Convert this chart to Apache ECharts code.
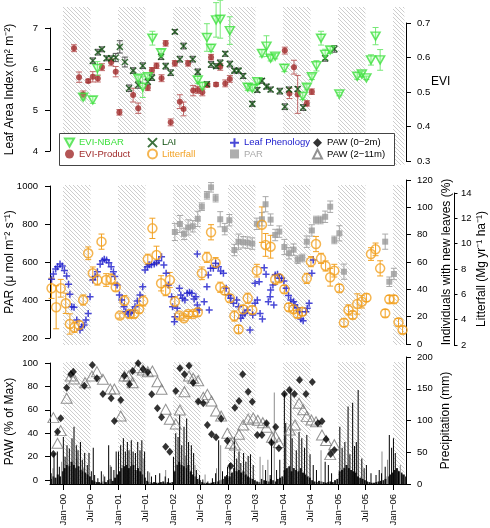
<!DOCTYPE html>
<html><head><meta charset="utf-8">
<script src="https://cdn.jsdelivr.net/npm/echarts@6/dist/echarts.min.js"></script>
<style>html,body{margin:0;padding:0;background:#fff}#c{width:490px;height:528px}</style>
</head><body><div id="c"></div>
<script>
// ---- time axis: months since Jan 2000 ----
const X_MIN = -2.84, X_MAX = 74.84;
const xTickMonths = [0,6,12,18,24,30,36,42,48,54,60,66,72];
const xTickLabels = ['Jan−00','Jul−00','Jan−01','Jul−01','Jan−02','Jul−02','Jan−03','Jul−03','Jan−04','Jul−04','Jan−05','Jul−05','Jan−06'];
const wetSeasons = [[0,6],[12,18],[24,30],[36,42],[48,54],[60,66],[72,74.5]];

// ---- top panel: [month, value, error] ----
const eviNbar = [[4.4,0.485,0.008],[6.5,0.477,0.01],[7.5,0.568,0.02],[16.4,0.540,0.008],[17.4,0.514,0.03],[18.5,0.544,0.008],[19.5,0.656,0.02],[21.4,0.614,0.01],[29.4,0.535,0.01],[30.4,0.517,0.01],[31.4,0.658,0.04],[32.3,0.627,0.01],[33.4,0.709,0.05],[34.3,0.711,0.055],[36.4,0.678,0.04],[40.3,0.514,0.01],[41.3,0.511,0.008],[42.4,0.530,0.008],[43.4,0.612,0.01],[44.4,0.633,0.03],[45.3,0.598,0.008],[46.3,0.604,0.008],[48.3,0.569,0.01],[52.3,0.488,0.01],[53.2,0.514,0.008],[54.3,0.544,0.008],[55.3,0.576,0.015],[56.3,0.656,0.02],[57.2,0.609,0.015],[58.3,0.622,0.01],[60.3,0.494,0.005],[64.2,0.546,0.01],[65.2,0.552,0.008],[66.2,0.541,0.005],[67.2,0.593,0.015],[68.2,0.662,0.025],[69.2,0.593,0.03]];
const eviProduct = [[2.4,0.627,0.01],[3.5,0.543,0.015],[4.4,0.493,0.01],[5.5,0.532,0.005],[6.5,0.544,0.015],[7.6,0.539,0.01],[8.5,0.572,0.01],[10.5,0.586,0.01],[11.5,0.559,0.015],[12.3,0.441,0.008],[15.3,0.491,0.02],[16.4,0.453,0.015],[18.5,0.512,0.008],[19.4,0.563,0.008],[20.4,0.576,0.008],[21.5,0.540,0.01],[22.4,0.641,0.008],[23.5,0.412,0.01],[24.4,0.583,0.008],[25.5,0.472,0.02],[26.3,0.451,0.02],[27.3,0.583,0.008],[28.4,0.504,0.015],[29.4,0.506,0.01],[30.4,0.499,0.01],[31.5,0.520,0.005],[32.3,0.601,0.008],[33.4,0.522,0.005],[34.3,0.573,0.01],[35.4,0.525,0.01],[36.4,0.538,0.01],[48.4,0.620,0.01],[49.4,0.496,0.015],[50.4,0.572,0.02],[51.2,0.493,0.055],[53.2,0.467,0.008],[54.3,0.501,0.008]];
const lai = [[6.5,6.20,0.07],[7.6,6.41,0.07],[8.5,6.48,0.06],[9.5,6.26,0.06],[10.5,6.26,0.06],[11.5,6.28,0.1],[12.4,6.54,0.15],[13.5,6.17,0.12],[14.4,5.53,0.08],[15.3,5.96,0.07],[16.4,5.61,0.08],[17.4,6.08,0.07],[18.5,5.69,0.07],[19.4,5.79,0.07],[21.4,6.30,0.07],[22.4,6.07,0.07],[23.5,5.91,0.07],[24.4,6.91,0.05],[25.5,6.24,0.07],[26.3,6.56,0.07],[28.3,6.24,0.07],[29.4,5.93,0.07],[31.4,5.63,0.06],[32.3,6.11,0.07],[33.4,6.07,0.06],[34.3,6.15,0.07],[35.4,6.37,0.06],[36.4,6.12,0.07],[37.4,5.96,0.06],[38.3,5.96,0.06],[39.3,5.83,0.06],[41.3,5.15,0.06],[42.4,5.49,0.06],[43.4,5.71,0.06],[44.4,5.57,0.06],[45.3,5.50,0.06],[47.3,5.46,0.07],[48.4,5.08,0.07],[49.3,5.50,0.06],[51.2,5.51,0.06],[52.4,5.06,0.07],[57.2,6.26,0.07],[59.2,6.49,0.08]];

// ---- middle panel ----
const leafPhenology = [[-2.5,47.3],[-2.1,51.2],[-1.6,54.9],[-1.2,56.6],[-0.65,58.5],[-0.15,57.1],[0.3,53.7],[0.8,49.8],[1.2,43.7],[1.5,36.4],[1.9,27.3],[2.4,26.8],[3.0,17.6],[3.7,10.2],[4.1,12.7],[4.6,13.9],[5.0,17.6],[5.5,22.4],[5.9,34.6],[6.5,46.8],[7.0,49.3],[7.5,52.9],[8.1,58.3],[8.6,61.0],[9.0,62.0],[9.5,61.5],[10.0,59.5],[10.5,56.6],[11.0,52.9],[11.3,49.3],[11.8,43.2],[12.3,35.9],[12.8,32.2],[13.3,27.3],[13.7,23.6],[14.2,22.0],[14.8,22.9],[15.2,24.4],[15.7,27.3],[16.2,31.5],[16.8,35.9],[17.4,41.9],[17.9,54.1],[18.4,56.6],[18.8,58.0],[19.3,58.0],[19.9,58.5],[20.4,59.5],[20.9,61.0],[21.5,63.9],[22.0,57.8],[22.5,51.7],[23.0,43.2],[23.7,34.6],[23.9,27.3],[24.3,16.3],[24.4,20.0],[24.9,26.1],[25.4,40.8],[25.7,35.9],[26.1,33.4],[26.6,32.2],[27.1,37.1],[27.6,37.8],[28.1,37.1],[28.6,32.9],[29.0,34.6],[29.3,65.9],[29.3,28.5],[29.7,24.9],[30.8,31.0],[31.4,41.9],[31.7,50.5],[31.9,24.9],[32.2,55.4],[32.8,55.4],[33.3,59.0],[33.9,56.6],[34.4,53.4],[35.0,51.7],[35.6,40.8],[36.1,35.9],[36.6,33.4],[37.2,29.8],[37.9,32.2],[38.3,27.3],[38.8,18.8],[39.2,21.2],[39.7,22.4],[40.2,24.9],[40.8,10.2],[41.4,21.2],[41.9,29.8],[41.9,44.4],[42.4,32.2],[42.8,45.6],[43.0,22.4],[43.5,18.3],[43.9,55.8],[44.3,51.0],[44.8,31.0],[45.2,34.6],[45.3,39.5],[45.8,43.2],[46.0,28.5],[46.3,50.5],[46.8,51.0],[47.2,48.1],[47.7,48.1],[48.2,46.1],[48.7,40.8],[49.2,35.4],[49.7,32.2],[50.3,31.0],[50.6,28.5],[51.1,26.6],[51.6,23.6],[51.9,18.3],[52.4,17.1],[53.0,23.6],[53.3,26.1],[53.7,29.8],[54.3,51.7],[54.6,61.5]];
const litterfall = [[-2.5,6.48,0.8],[-1.5,4.98,1.7],[-0.5,6.48,0.7],[0.6,5.29,0.8],[1.5,3.66,0.8],[2.5,3.40,0.4],[3.5,3.58,0.3],[4.4,5.55,0.4],[5.5,9.24,0.5],[6.5,7.66,0.5],[7.5,7.13,0.4],[8.4,10.16,0.6],[9.4,7.13,0.5],[10.5,7.21,0.4],[11.5,6.56,0.3],[12.4,4.32,0.2],[13.4,5.50,0.4],[14.5,4.45,0.3],[15.5,4.45,0.3],[16.6,4.82,0.3],[17.5,5.48,0.4],[18.5,8.77,0.4],[19.5,11.21,0.8],[20.4,9.10,0.7],[21.4,6.87,0.6],[22.4,6.29,0.4],[23.3,7.13,0.6],[24.4,5.42,0.4],[25.4,4.32,0.2],[26.4,4.11,0.2],[27.3,4.45,0.2],[28.4,4.45,0.2],[29.4,4.58,0.3],[30.3,7.66,0.5],[31.4,8.92,0.4],[32.3,10.90,0.6],[33.3,8.50,0.4],[34.3,6.56,0.4],[35.3,6.29,0.3],[36.4,5.69,0.3],[37.4,4.29,0.4],[38.3,3.24,0.3],[39.3,4.82,0.3],[40.3,5.69,0.4],[41.3,4.77,0.3],[42.3,7.87,0.5],[43.4,11.5,1.4],[44.2,9.90,0.9],[45.3,9.76,0.9],[46.3,7.18,0.4],[47.2,7.26,0.3],[48.3,6.40,0.3],[49.3,4.98,0.3],[50.3,4.82,0.3],[51.2,4.45,0.3],[52.2,4.63,0.3],[53.2,7.26,0.4],[54.1,8.58,0.4],[55.2,9.97,0.6],[56.3,8.84,0.4],[57.3,8.24,0.4],[58.3,7.35,0.7],[59.2,7.87,0.5],[60.3,6.48,0.3],[61.3,3.76,0.3],[62.3,4.77,0.4],[63.2,4.37,0.3],[64.2,5.24,0.8],[65.2,5.42,0.5],[66.2,5.74,0.3],[67.2,9.18,0.5],[68.2,9.55,0.5],[69.2,8.05,0.6],[70.3,4.50,0.3],[71.2,5.61,0.3],[72.2,5.61,0.3],[73.2,3.79,0.3],[74.1,3.19,0.3]];
const par = [[24.4,758,45],[25.5,800,45],[26.4,748,30],[27.3,782,40],[28.3,788,30],[29.4,827,40],[30.3,891,20],[31.4,951,20],[32.3,993,25],[33.3,936,20],[34.3,825,40],[35.3,773,30],[36.3,820,30],[37.4,663,30],[38.3,707,40],[39.3,704,30],[40.3,702,30],[41.3,697,30],[42.3,801,30],[43.4,825,35],[44.2,904,40],[45.3,823,30],[46.3,742,30],[47.2,760,30],[48.3,679,40],[49.3,646,30],[50.3,665,30],[51.2,612,20],[52.2,621,20],[53.2,707,30],[54.3,766,30],[55.2,821,20],[56.2,821,20],[57.2,838,30],[58.3,891,30],[59.2,716,20],[60.3,751,40],[61.3,549,40],[70.3,707,40],[71.2,496,25],[72.2,537,30]];

// ---- bottom panel ----
const pawShallow = [[-2.1,22.2],[-1.2,41.3],[-0.5,52.7],[0.8,78.9],[1.7,90.3],[2.25,92.6],[4.65,80.6],[6.4,98.3],[7.4,86.9],[8.7,73.5],[10.5,69.8],[11.2,50.4],[12.6,68.4],[13.4,89.1],[14.5,81.8],[15.2,93.2],[16.4,99.7],[17.5,94.6],[18.5,92.0],[19.35,73.2],[20.6,61.3],[21.5,53.6],[22.4,28.5],[23.3,24.2],[24.6,76.1],[25.5,95.5],[26.5,90.3],[27.5,97.7],[28.4,83.2],[29.5,67.0],[30.6,65.6],[31.5,47.0],[32.4,39.1],[33.4,36.5],[34.5,52.4],[35.85,33.6],[36.6,12.0],[37.5,61.8],[38.4,67.5],[39.2,90.3],[40.4,75.5],[41.3,66.9],[42.4,38.5],[43.4,38.5],[44.4,48.5],[45.5,31.9],[46.4,45.3],[47.1,27.1],[48.3,73.5],[49.4,76.9],[50.5,73.5],[51.6,85.5],[53.0,73.5],[54.4,83.8],[55.6,48.5],[56.5,50.3],[57.4,34.8],[58.4,22.2],[59.2,25.6]];
const pawDeep = [[-2.1,53.3],[-1.2,31.4],[-0.5,42.2],[0.8,69.8],[1.7,88.9],[2.4,86.3],[4.8,83.2],[6.3,88.9],[7.4,92.6],[8.7,86.1],[10.3,77.8],[11.2,77.8],[12.6,54.7],[13.4,88.9],[14.3,88.9],[15.2,83.2],[16.2,96.0],[17.4,94.0],[18.5,92.6],[19.5,93.2],[20.6,84.0],[21.5,77.5],[22.4,60.4],[23.3,51.9],[24.6,47.9],[25.5,59.8],[26.5,75.5],[27.5,88.9],[28.4,86.9],[29.5,84.9],[30.6,70.7],[31.5,73.2],[32.4,67.5],[33.4,59.0],[34.5,54.7],[35.85,39.9],[36.6,31.4],[37.5,29.9],[38.4,39.1],[39.3,47.0],[40.4,52.0],[41.5,53.0],[42.5,51.0],[43.6,49.0],[44.4,45.0],[45.6,36.5],[46.3,37.5],[47.1,32.0],[49.5,42.7],[50.6,47.0],[51.5,65.6],[52.4,60.0],[53.2,54.4],[54.2,51.3],[55.2,49.8],[56.5,38.5],[57.4,33.7],[58.3,21.7],[59.2,30.2]];
const precipBlack = [[-2.6,17],[-1.96,49],[-1.24,51],[-0.8,27],[0.07,74],[0.45,43],[0.87,61],[1.38,56],[1.96,72],[2.4,90],[2.9,61],[3.27,53],[3.8,66],[4.2,38],[4.73,49],[5.3,30],[5.67,49],[6.18,20],[6.6,57],[6.9,14],[7.6,9],[8.36,20],[9.1,12],[9.96,61],[10.5,27],[11.1,22],[11.6,51],[12.1,51],[12.58,61],[13.17,72],[13.6,51],[14.04,66],[14.4,53],[14.9,69],[15.3,51],[15.8,49],[16.3,66],[16.8,53],[17.2,69],[17.8,51],[18.5,20],[19.3,12],[20.2,14],[21.1,17],[22.3,12],[23.0,9],[24.1,43],[24.6,80],[25.1,74],[25.45,109],[25.9,61],[26.4,90],[26.98,103],[27.4,66],[28.0,61],[28.5,49],[29.1,22],[29.8,14],[30.5,7],[31.6,4],[32.6,9],[33.3,17],[33.96,69],[34.8,20],[35.7,14],[35.9,27],[36.4,33],[37.4,74],[37.9,40],[38.4,51],[38.8,33],[39.4,49],[39.9,35],[40.4,44],[40.9,47],[41.5,30],[44.2,22],[45.2,14],[45.5,72],[46.6,22],[47.3,38],[48.3,143],[48.6,96],[49.7,150],[50.0,72],[50.9,53],[51.5,82],[52.1,72],[52.7,57],[53.2,77],[53.9,47],[54.6,30],[55.3,22],[57.2,35],[57.9,30],[58.6,17],[60.4,90],[60.9,57],[61.5,66],[62.2,122],[62.6,47],[63.2,128],[63.6,60],[64.0,66],[64.4,148],[65.2,40],[65.7,25],[66.2,30],[67.2,17],[68.3,14],[69.0,22],[69.5,17],[70.3,27],[71.2,77],[71.7,57],[72.1,72],[72.5,49],[73.2,20],[74.0,15]];
const precipGrey = [[-2.2,25],[-0.3,35],[1.1,30],[3.0,40],[4.5,25],[8.8,15],[10.3,30],[12.9,30],[15.0,35],[17.5,40],[18.9,18],[22.4,22],[24.8,30],[26.7,45],[28.8,30],[31.0,15],[33.5,25],[34.4,61],[43.0,43],[43.6,30],[44.7,38],[46.1,144],[56.3,53],[69.6,51],[70.8,38],[73.6,30]];
// half-monthly background rainfall level, from Oct 1999 (first half) onward
const precipBaseStart = -2.75;
const precipBase = [8,12,10,15,12,20,
 25,30,28,35,30,25,28,22,20,18,15,12,
 6,4,3,3,2,4,3,6,8,5,10,15,
 20,25,28,30,25,28,30,22,25,20,15,10,
 5,3,2,3,2,2,3,4,2,3,2,3,
 20,30,35,30,28,25,30,20,15,12,8,6,
 3,2,2,1,2,3,3,4,6,8,12,10,
 12,18,25,20,22,18,20,15,12,10,8,6,
 4,3,8,6,5,4,8,6,4,8,10,12,
 22,25,28,20,25,22,20,25,18,15,12,10,
 6,4,3,5,4,3,2,3,4,3,6,8,
 20,22,25,30,25,22,20,18,12,10,8,6,
 4,3,2,2,3,4,5,6,8,12,15,18,
 22,25,20,18,15,12];

// ---- styling ----
const FONT = 'Liberation Sans, Arial, sans-serif';
const C = {nbar:'#3ee03e', prod:'#a02a2a', lai:'#0d4d0d', leaf:'#1a1acc', litter:'#f2a224', par:'#9a9a9a', paw:'#000', pawDeep:'#777'};

const hatch = document.createElement('canvas');
hatch.width = 4; hatch.height = 4;
(function(){const g = hatch.getContext('2d'); g.strokeStyle = '#b8b8b8'; g.lineWidth = 0.7;
 g.beginPath(); g.moveTo(-1,-1); g.lineTo(5,5); g.moveTo(-1,3); g.lineTo(1,5); g.moveTo(3,-1); g.lineTo(5,1); g.stroke();})();

const gridDefs = [[7,158],[28,123],[23,138],[185,160],[186,152],[180,164],[193,152],[362,121],[363,117],[357,127]];
const grid = gridDefs.map(d => ({left:50, right:84, top:d[0], height:d[1], containLabel:false, outerBoundsMode:'none'}));

const xAxis = gridDefs.map((d,i) => ({type:'value', gridIndex:i, min:X_MIN, max:X_MAX, show:false, splitLine:{show:false}}));
xAxis[9] = {type:'value', gridIndex:9, min:X_MIN, max:X_MAX, show:true,
  axisLine:{show:true, onZero:false, lineStyle:{color:'#000', width:1}},
  axisTick:{show:true, length:6, customValues:xTickMonths, lineStyle:{color:'#000'}},
  axisLabel:{show:true, customValues:xTickMonths, rotate:90, margin:10, fontSize:9.5, color:'#000', fontFamily:FONT,
    formatter: v => { const i = xTickMonths.indexOf(Math.round(v)); return i >= 0 ? xTickLabels[i] : ''; }},
  splitLine:{show:false}};

function yAx(grid, pos, min, max, interval, name, gap, extra) {
  return Object.assign({type:'value', gridIndex:grid, position:pos, min, max, interval, name,
    nameLocation:'middle', nameRotate:90, nameGap:gap, nameMoveOverlap:false,
    nameTextStyle:{fontSize:12, color:'#000', fontFamily:FONT},
    axisLine:{show:true, onZero:false, lineStyle:{color:'#000', width:1}},
    axisTick:{show:true, length:5, lineStyle:{color:'#000'}},
    axisLabel:{fontSize:9.5, color:'#000', margin: pos==='left'?12:11, fontFamily:FONT, showMinLabel:true, showMaxLabel:true,
      formatter: v => String(Math.round(v*10)/10)},
    splitLine:{show:false}}, extra||{});
}
const hidY = i => ({type:'value', gridIndex:i, min:0, max:1, show:false, splitLine:{show:false}});
const yAxis = [
  hidY(0),
  yAx(1,'left',4,7,1,'Leaf Area Index (m² m⁻²)',34),
  yAx(2,'right',0.3,0.7,0.1,'',25),
  hidY(3),
  yAx(4,'left',200,1000,200,'PAR (μ mol m⁻² s⁻¹)',34),
  yAx(5,'right',0,120,20,'Individuals with new leaves (%)',35),
  yAx(6,'right',2,14,2,'Litterfall (Mg yr⁻¹ ha⁻¹)',22,{offset:48, axisTick:{show:true,length:3.5,lineStyle:{color:'#000'}}, axisLabel:{fontSize:9.5,color:'#000',margin:7,fontFamily:FONT}}),
  hidY(7),
  yAx(8,'left',0,100,20,'PAW (% of Max)',34),
  yAx(9,'right',0,200,50,'Precipitation (mm)',34)
];

function hatchSeries(i) {
  return {type:'line', xAxisIndex:i, yAxisIndex:i, data:[[X_MIN,-5]], symbol:'none', silent:true, z:0,
    lineStyle:{opacity:0},
    markArea:{silent:true, itemStyle:{color:{image:hatch, repeat:'repeat'}},
      data: wetSeasons.map(s => [{xAxis:s[0]},{xAxis:s[1]}])}};
}
function errSeries(data, i, color, cap) {
  return {type:'custom', xAxisIndex:i, yAxisIndex:i, data, silent:true, z:2, clip:false,
    encode:{x:0, y:1},
    renderItem:(p, api) => {
      const t = api.value(0), v = api.value(1), e = api.value(2);
      const a = api.coord([t, v + e]), b = api.coord([t, v - e]), x = a[0];
      const st = {stroke:color, lineWidth:1};
      return {type:'group', children:[
        {type:'line', shape:{x1:x, y1:a[1], x2:x, y2:b[1]}, style:st},
        {type:'line', shape:{x1:x-cap, y1:a[1], x2:x+cap, y2:a[1]}, style:st},
        {type:'line', shape:{x1:x-cap, y1:b[1], x2:x+cap, y2:b[1]}, style:st}]};
    }};
}
function scat(name, data, i, symbol, size, style) {
  return {type:'scatter', name, xAxisIndex:i, yAxisIndex:i, data: data.map(d => [d[0], d[1]]),
    symbol, symbolSize:size, itemStyle:style, clip:false, z:3, silent:true};
}
const P_TRI_DOWN = 'path://M0,0 L10,0 L5,9 Z';
const P_X = 'path://M0,0 L10,10 M10,0 L0,10';
const P_PLUS = 'path://M5,0 L5,10 M0,5 L10,5';

const baseData = precipBase.map((v, k) => [precipBaseStart + 0.5 * k, v]);

const series = [
  hatchSeries(0), hatchSeries(3), hatchSeries(7),
  {type:'bar', name:'precipBase', xAxisIndex:9, yAxisIndex:9, data:baseData, barWidth:2, barGap:'-100%', itemStyle:{color:'#1a1a1a'}, z:1, silent:true},
  {type:'bar', name:'precipGrey', xAxisIndex:9, yAxisIndex:9, data:precipGrey, barWidth:1, barGap:'-100%', itemStyle:{color:'#8c8c8c'}, z:1, silent:true},
  {type:'bar', name:'precipBlack', xAxisIndex:9, yAxisIndex:9, data:precipBlack, barWidth:1, barGap:'-100%', itemStyle:{color:'#000'}, z:1, silent:true},
  errSeries(lai, 1, '#555', 3),
  errSeries(eviProduct, 2, '#c06a6a', 3),
  errSeries(eviNbar, 2, '#77e877', 3),
  errSeries(par, 4, '#aaaaaa', 3),
  errSeries(litterfall, 6, '#f2a224', 3),
  scat('EVI-Product', eviProduct, 2, 'circle', 6, {color:C.prod}),
  scat('LAI', lai, 1, P_X, 6, {color:'rgba(0,0,0,0)', borderColor:C.lai, borderWidth:1.5}),
  scat('EVI-NBAR', eviNbar, 2, P_TRI_DOWN, [9,8], {color:'rgba(140,255,140,0.35)', borderColor:C.nbar, borderWidth:1.5}),
  scat('PAR', par, 4, 'rect', 6, {color:C.par}),
  scat('Leaf Phenology', leafPhenology, 5, P_PLUS, 7, {color:'rgba(0,0,0,0)', borderColor:C.leaf, borderWidth:1.5}),
  scat('Litterfall', litterfall, 6, 'circle', 9, {color:'rgba(0,0,0,0)', borderColor:C.litter, borderWidth:1.5}),
  scat('PAW (2−11m)', pawDeep, 8, 'triangle', [11,10], {color:'rgba(255,255,255,0)', borderColor:C.pawDeep, borderWidth:1}),
  scat('PAW (0−2m)', pawShallow, 8, 'diamond', [7,8], {color:C.paw})
];

function legendCol(left, names, colors) {
  return {show:true, orient:'vertical', left, top:137, padding:0, itemGap:0, itemWidth:9, itemHeight:9, z:6,
    selectedMode:false,
    data: names.map((n, k) => ({name:n, textStyle:{color:colors[k]}})),
    textStyle:{fontSize:9.5, fontFamily:FONT, lineHeight:11.3}};
}

const option = {
  animation:false,
  backgroundColor:'#fff',
  textStyle:{fontFamily:FONT},
  title:{text:'EVI', left:431, top:76, padding:0, textStyle:{fontSize:12, fontWeight:'normal', color:'#000', fontFamily:FONT}},
  grid, xAxis, yAxis, series,
  legend:[
    legendCol(64, ['EVI-NBAR','EVI-Product'], [C.nbar, C.prod]),
    legendCol(147, ['LAI','Litterfall'], [C.lai, C.litter]),
    legendCol(229, ['Leaf Phenology','PAR'], [C.leaf, '#aaaaaa']),
    legendCol(312, ['PAW (0−2m)','PAW (2−11m)'], ['#000','#000'])
  ],
  graphic:[{type:'rect', left:59, top:133, z:5, shape:{width:335, height:32}, style:{fill:'#fff', stroke:'#444', lineWidth:1}}]
};
const chart = echarts.init(document.getElementById('c'), null, {renderer:'canvas'});
chart.setOption(option);
</script></body></html>
